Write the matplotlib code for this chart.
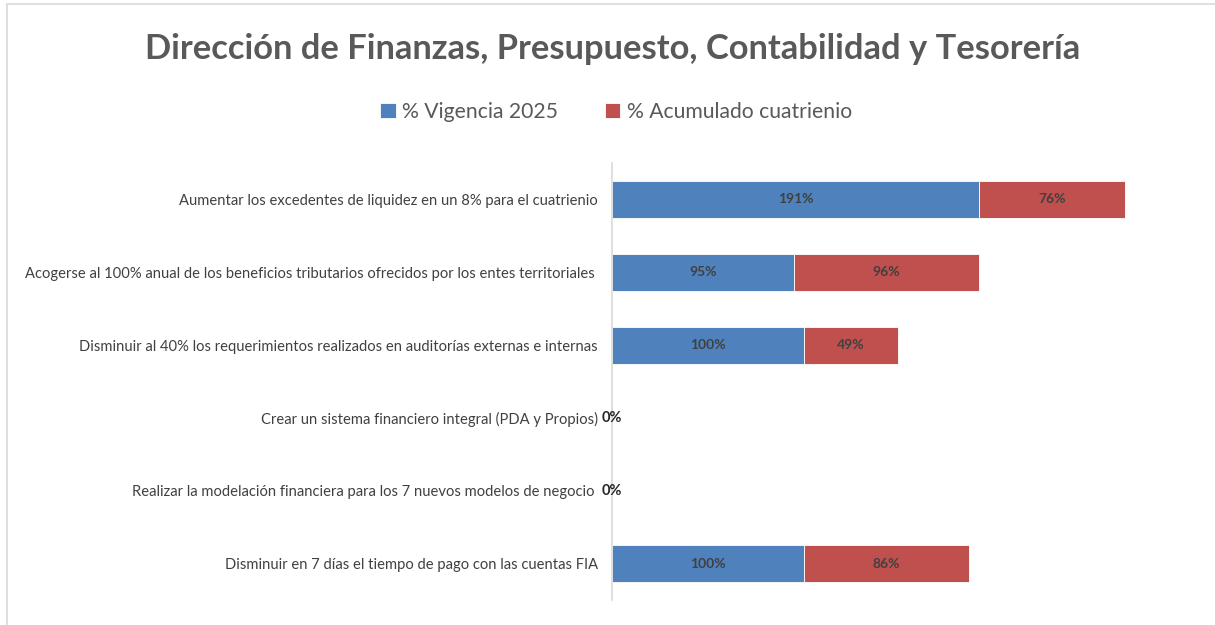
import matplotlib
matplotlib.use("Agg")
import matplotlib.pyplot as plt
from matplotlib.patches import Rectangle

categories = [
    "Aumentar los excedentes de liquidez en un 8% para el cuatrienio",
    "Acogerse al 100% anual de los beneficios tributarios ofrecidos por los entes territoriales ",
    "Disminuir al 40% los requerimientos realizados en auditorías externas e internas",
    "Crear un sistema financiero integral (PDA y Propios)",
    "Realizar la modelación financiera para los 7 nuevos modelos de negocio ",
    "Disminuir en 7 días el tiempo de pago con las cuentas FIA",
]
vigencia = [191, 95, 100, 0, 0, 100]
acumulado = [76, 96, 49, 0, 0, 86]
series_names = ["% Vigencia 2025", "% Acumulado cuatrienio"]
title = "Dirección de Finanzas, Presupuesto, Contabilidad y Tesorería"

BLUE = "#4F81BD"
RED = "#C0504D"
GRAY = "#595959"

plt.rcParams["font.family"] = ["Lato", "DejaVu Sans"]

W, H = 1215, 625
fig = plt.figure(figsize=(W / 100, H / 100), dpi=100)

# chart frame
fig.add_artist(Rectangle((7 / W, -0.05), 1.1, 1 - 4 / H + 0.05, transform=fig.transFigure,
                         fill=False, edgecolor="#D9D9D9", linewidth=1.2))

# axes: left 612px, right 1188px, top 163, bottom 600
ax = fig.add_axes([612 / W, 1 - 600 / H, (1188 - 612) / W, (600 - 163) / H])
n = len(categories)
ypos = list(range(n))
bh = 0.51
ax.barh(ypos, vigencia, height=bh, color=BLUE, edgecolor="white", linewidth=0.6, label=series_names[0])
ax.barh(ypos, acumulado, left=vigencia, height=bh, color=RED, edgecolor="white", linewidth=0.6, label=series_names[1])
ax.set_ylim(n - 0.5, -0.5)
ax.set_xlim(0, 300)

for i, (v, a) in enumerate(zip(vigencia, acumulado)):
    if v == 0 and a == 0:
        ax.text(0, i, "0%", ha="center", va="center", fontsize=10.5, fontweight="bold", color="#262626")
        continue
    ax.text(v / 2, i, f"{v}%", ha="center", va="center", fontsize=10, fontweight="bold", color="#404040")
    ax.text(v + a / 2, i, f"{a}%", ha="center", va="center", fontsize=10, fontweight="bold", color="#404040")

ax.set_yticks(ypos)
ax.set_yticklabels(categories, fontsize=10.6, color="#404040")
ax.tick_params(axis="y", length=0, pad=10)
ax.set_xticks([])
for s in ["top", "right", "bottom"]:
    ax.spines[s].set_visible(False)
ax.spines["left"].set_color("#D9D9D9")
ax.spines["left"].set_linewidth(1.2)

fig.text(613 / W, 1 - 49 / H, title, ha="center", va="center", fontsize=24.8,
         fontweight="bold", color=GRAY)

handles, labels = ax.get_legend_handles_labels()
leg = fig.legend(handles, labels, loc="center", bbox_to_anchor=(616 / W, 1 - 112 / H), ncol=2,
                 frameon=False, fontsize=15.2, handlelength=0.75, handleheight=0.75,
                 handletextpad=0.3, columnspacing=2.2, labelcolor=GRAY)

fig.savefig("out.png", dpi=100, facecolor="white")
